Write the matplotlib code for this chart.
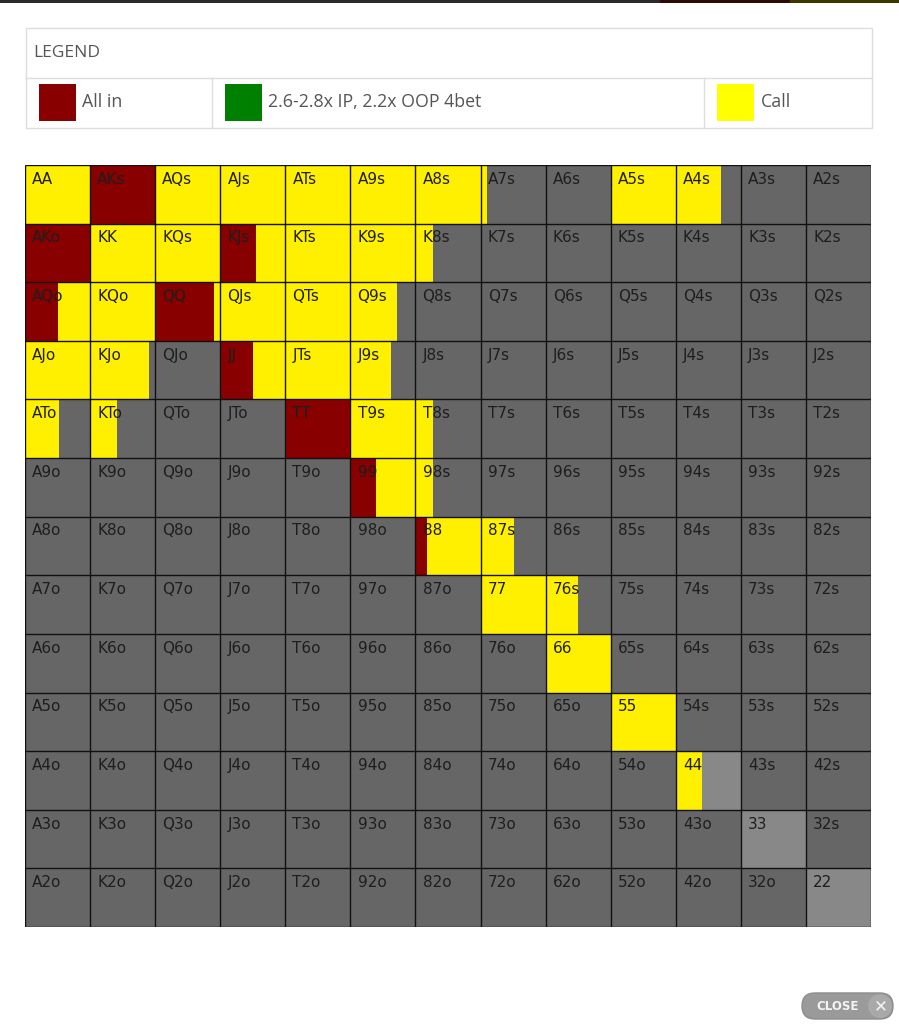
import matplotlib
matplotlib.use("Agg")
import matplotlib.pyplot as plt
from matplotlib.patches import Rectangle, FancyBboxPatch, Circle

ranks = ["A", "K", "Q", "J", "T", "9", "8", "7", "6", "5", "4", "3", "2"]

# fraction of each hand that goes all in (row = first rank, col = second rank)
allin = [
    [0, 1.0, 0, 0, 0, 0, 0, 0, 0, 0, 0, 0, 0],
    [1.0, 0, 0, 0.55, 0, 0, 0, 0, 0, 0, 0, 0, 0],
    [0.51, 0, 0.9, 0, 0, 0, 0, 0, 0, 0, 0, 0, 0],
    [0, 0, 0, 0.5, 0, 0, 0, 0, 0, 0, 0, 0, 0],
    [0, 0, 0, 0, 1.0, 0, 0, 0, 0, 0, 0, 0, 0],
    [0, 0, 0, 0, 0, 0.4, 0, 0, 0, 0, 0, 0, 0],
    [0, 0, 0, 0, 0, 0, 0.17, 0, 0, 0, 0, 0, 0],
    [0] * 13,
    [0] * 13,
    [0] * 13,
    [0] * 13,
    [0] * 13,
    [0] * 13,
]

# fraction of each hand that calls
call = [
    [1.0, 0, 1.0, 1.0, 1.0, 1.0, 1.0, 0.1, 0, 1.0, 0.7, 0, 0],
    [0, 1.0, 1.0, 0.45, 1.0, 1.0, 0.27, 0, 0, 0, 0, 0, 0],
    [0.49, 1.0, 0.1, 1.0, 1.0, 0.72, 0, 0, 0, 0, 0, 0, 0],
    [1.0, 0.9, 0, 0.5, 1.0, 0.62, 0, 0, 0, 0, 0, 0, 0],
    [0.52, 0.41, 0, 0, 0, 1.0, 0.27, 0, 0, 0, 0, 0, 0],
    [0, 0, 0, 0, 0, 0.6, 0.27, 0, 0, 0, 0, 0, 0],
    [0, 0, 0, 0, 0, 0, 0.83, 0.51, 0, 0, 0, 0, 0],
    [0, 0, 0, 0, 0, 0, 0, 1.0, 0.5, 0, 0, 0, 0],
    [0, 0, 0, 0, 0, 0, 0, 0, 1.0, 0, 0, 0, 0],
    [0, 0, 0, 0, 0, 0, 0, 0, 0, 1.0, 0, 0, 0],
    [0, 0, 0, 0, 0, 0, 0, 0, 0, 0, 0.4, 0, 0],
    [0] * 13,
    [0] * 13,
]

legend_labels = ["All in", "2.6-2.8x IP, 2.2x OOP 4bet", "Call"]
legend_colors = ["#880000", "#008000", "#ffff00"]

RED = "#880000"
YELLOW = "#fff000"
DARK = "#666666"
LIGHT = "#888888"


def hand_name(i, j):
    if i == j:
        return ranks[i] + ranks[j]
    if i < j:
        return ranks[i] + ranks[j] + "s"
    return ranks[j] + ranks[i] + "o"


W, H = 899, 1024
fig = plt.figure(figsize=(W / 100, H / 100), dpi=100)
fig.patch.set_facecolor("white")

# page decoration in pixel coordinates
bg = fig.add_axes([0, 0, 1, 1])
bg.set_xlim(0, W)
bg.set_ylim(H, 0)
bg.axis("off")

# thin strip at the very top
bg.add_patch(Rectangle((0, 0), 660, 2.5, color="#2a2a2a", lw=0))
bg.add_patch(Rectangle((660, 0), 130, 2.5, color="#2e0a05", lw=0))
bg.add_patch(Rectangle((790, 0), 109, 2.5, color="#3a3a00", lw=0))

# legend box
border = "#dddddd"
font_ui = ["Open Sans", "DejaVu Sans"]
bg.add_patch(Rectangle((25.5, 27.5), 846, 100, fill=False, ec=border, lw=1))
bg.plot([25.5, 871.5], [77.5, 77.5], color=border, lw=1)
bg.text(33, 53, "LEGEND", fontsize=12.5, family=font_ui,
        color="#555555", va="center", ha="left")
starts = [25.5, 211.5, 703.5]
for k, (lab, col) in enumerate(zip(legend_labels, legend_colors)):
    x0 = starts[k]
    if k > 0:
        bg.plot([x0, x0], [77.5, 127.5], color=border, lw=1)
    bg.add_patch(Rectangle((x0 + 13.5, 84), 37, 37, color=col, lw=0))
    bg.text(x0 + 57, 102, lab, fontsize=12.8, family=font_ui,
            color="#555555", va="center", ha="left")

# close button
bg.add_patch(FancyBboxPatch((802, 993), 91, 26, boxstyle="round,pad=0,rounding_size=13",
                            fc="#9a9a9a", ec="#8c8c8c", lw=1))
bg.add_patch(Circle((880, 1006), 12, fc="#a9a9a9", ec="none"))
bg.text(838, 1006.5, "CLOSE", fontsize=8.5, fontweight="bold", color="#f4f4f4",
        ha="center", va="center")
bg.text(880.5, 1006, "\u2715", fontsize=12, fontweight="bold", color="#f4f4f4",
        ha="center", va="center")

# range grid
gx0, gx1, gy0, gy1 = 25, 871, 165, 927
ax = fig.add_axes([gx0 / W, 1 - gy1 / H, (gx1 - gx0) / W, (gy1 - gy0) / H])
ax.set_xlim(0, 13)
ax.set_ylim(13, 0)
ax.axis("off")

n = len(ranks)
for i in range(n):
    for j in range(n):
        base = LIGHT if i == j else DARK
        ax.barh(i, 1, left=j, height=1, align="edge", color=base, lw=0)
        a = allin[i][j]
        c = call[i][j]
        if a > 0:
            ax.barh(i, a, left=j, height=1, align="edge", color=RED, lw=0)
        if c > 0:
            ax.barh(i, c, left=j + a, height=1, align="edge", color=YELLOW, lw=0)
        ax.text(j + 0.11, i + 0.115, hand_name(i, j), fontsize=11,
                family="DejaVu Sans", color="#1e1e1e", ha="left", va="top")

ax.hlines(range(n + 1), 0, n, color="#111111", lw=1)
ax.vlines(range(n + 1), 0, n, color="#111111", lw=1)

fig.savefig("out.png", dpi=100)
